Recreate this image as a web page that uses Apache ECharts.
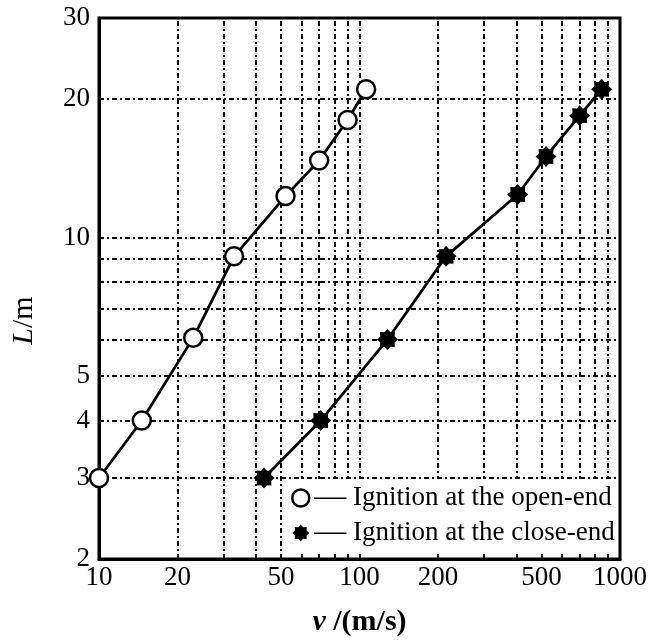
<!DOCTYPE html>
<html>
<head>
  <meta charset="utf-8">
</head>
<body style="margin: 0; background: #fff">
  <div id="container" style="width: 669px; height: 642px"></div>
  <script src="https://cdn.jsdelivr.net/npm/echarts@6.0.0/dist/echarts.min.js"></script>
  <script>
    // open-end ignition (v in m/s, L in m)
    var openV = [10, 14.6, 23, 33, 52, 70, 90, 106];
    var openL = [3, 4, 6.05, 9.1, 12.3, 14.7, 18, 21];
    // close-end ignition
    var closeV = [43, 71, 128, 215, 405, 520, 700, 850];
    var closeL = [3, 4, 6, 9.1, 12.4, 15, 18.4, 21];

    var xTicks = [10, 20, 50, 100, 200, 500, 1000];
    var yTicks = [2, 3, 4, 5, 10, 20, 30];
    var xGrid = [20, 30, 40, 50, 60, 70, 80, 90, 100, 200, 300, 400, 500, 600, 700, 800, 900];
    var yGrid = [3, 4, 5, 6, 7, 8, 9, 10, 20];

    var openName = 'Ignition at the open-end';
    var closeName = 'Ignition at the close-end';

    // blobby 8 point star for the filled marker
    var star = 'path://';
    for (var i = 0; i < 16; i++) {
      var r = i % 2 ? 0.74 : 1;
      var a = Math.PI * i / 8 - Math.PI / 2;
      star += (i ? 'L' : 'M') + (r * Math.cos(a)).toFixed(3) + ',' + (r * Math.sin(a)).toFixed(3);
    }
    star += 'Z';

    var font = 'Liberation Serif';
    var dash = [5, 3, 2, 3];

    var gridLines = [];
    xGrid.forEach(function (v) { gridLines.push({ xAxis: v }); });
    yGrid.forEach(function (v) { gridLines.push({ yAxis: v }); });

    var myChart = echarts.init(document.getElementById('container'), null, { renderer: 'canvas' });

    var option = {
      animation: false,
      grid: {
        left: 99, right: 49, top: 18, bottom: 82,
        show: true, borderColor: '#000', borderWidth: 3
      },
      xAxis: {
        type: 'log',
        min: 10, max: 1000,
        name: '{i|v} /(m/s)',
        nameLocation: 'middle',
        nameGap: 48,
        nameTextStyle: {
          fontFamily: font, fontSize: 30, fontWeight: 'bold', color: '#000',
          rich: { i: { fontFamily: font, fontSize: 30, fontStyle: 'italic', fontWeight: 'bold' } }
        },
        axisLine: { lineStyle: { color: '#000', width: 3 } },
        axisTick: { show: false },
        splitLine: { show: false },
        axisLabel: {
          customValues: xTicks,
          formatter: function (v) { return String(v); },
          fontFamily: font, fontSize: 27, color: '#000', margin: 5
        }
      },
      yAxis: {
        type: 'log',
        min: 2, max: 30,
        name: '{i|L}/m',
        nameLocation: 'middle',
        nameRotate: 90,
        nameGap: 60,
        nameTextStyle: {
          fontFamily: font, fontSize: 30, color: '#000',
          padding: [0, 64, 0, 0],
          rich: { i: { fontFamily: font, fontSize: 30, fontStyle: 'italic' } }
        },
        axisLine: { lineStyle: { color: '#000', width: 3 } },
        axisTick: { show: false },
        splitLine: { show: false },
        axisLabel: {
          customValues: yTicks,
          formatter: function (v) { return String(v); },
          fontFamily: font, fontSize: 27, color: '#000', margin: 9
        }
      },
      legend: {
        orient: 'vertical',
        left: 287, top: 479,
        itemGap: 3,
        itemWidth: 17, itemHeight: 17,
        backgroundColor: '#fff',
        padding: [3, 2, 3, 4],
        textStyle: {
          fontFamily: font, fontSize: 27, color: '#000',
          rich: { d: { fontSize: 32, fontFamily: font, color: '#000' } }
        },
        formatter: function (n) { return '{d|—} ' + n; },
        data: [
          { name: openName, icon: 'circle', itemStyle: { color: '#fff', borderColor: '#000', borderWidth: 2.5 } },
          { name: closeName, icon: star, itemStyle: { color: '#000' } }
        ]
      },
      series: [
        {
          name: openName,
          type: 'line',
          data: openV.map(function (v, i) { return [v, openL[i]]; }),
          symbol: 'circle',
          symbolSize: 18,
          itemStyle: { color: '#fff', borderColor: '#000', borderWidth: 2.5 },
          lineStyle: { color: '#000', width: 2.8 },
          z: 5,
          markLine: {
            silent: true,
            symbol: 'none',
            label: { show: false },
            lineStyle: { color: '#000', width: 2, type: dash },
            data: gridLines,
            z: 1
          }
        },
        {
          name: closeName,
          type: 'line',
          data: closeV.map(function (v, i) { return [v, closeL[i]]; }),
          symbol: star,
          symbolSize: 21,
          itemStyle: { color: '#000' },
          lineStyle: { color: '#000', width: 2.8 },
          z: 5
        }
      ]
    };

    myChart.setOption(option);
    window.addEventListener('resize', myChart.resize);
  </script>
</body>
</html>
